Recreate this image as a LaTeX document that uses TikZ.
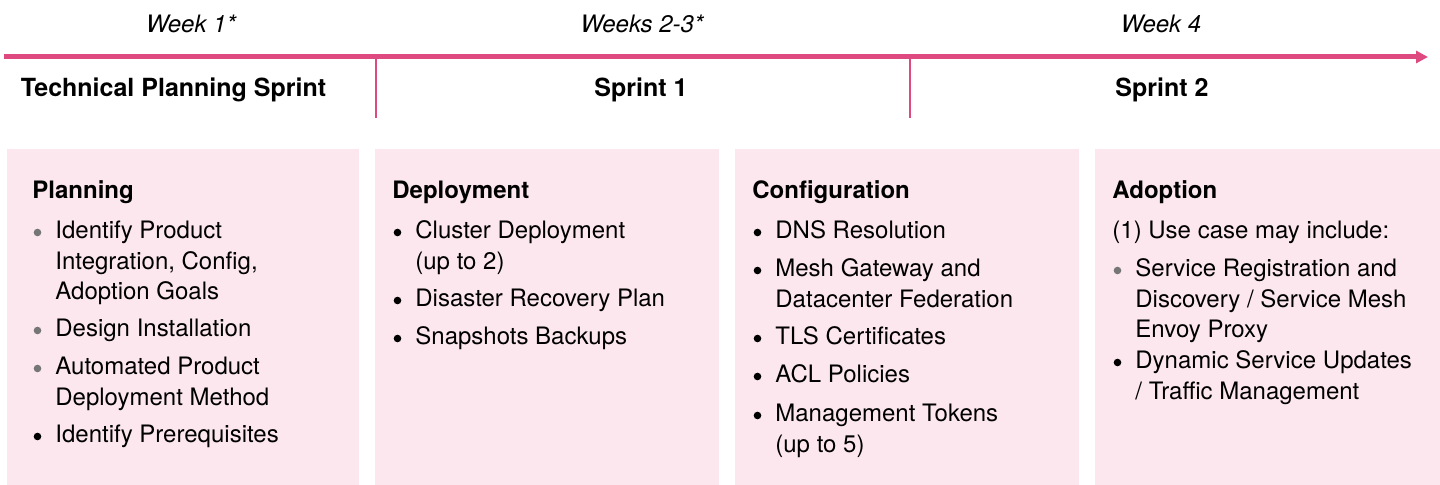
\documentclass[tikz,border=0pt]{standalone}
\usepackage{fontspec}
\setmainfont{TeX Gyre Heros}
\usetikzlibrary{arrows.meta}
\usetikzlibrary{positioning}
\definecolor{sprintpink}{RGB}{222,74,128}
\definecolor{phasefill}{RGB}{252,231,238}
\definecolor{dotgray}{RGB}{118,118,118}
\newcommand*{\basefont}{\fontsize{12}{15.2}\selectfont}
\tikzset{
    timeline/.style = {sprintpink,line width=2.5pt,-{Triangle[length=6pt,width=6pt]}},
    divider/.style = {sprintpink,line width=1.25pt},
    week/.style = {font=\basefont\itshape,anchor=base,inner sep=0},
    sprint/.style = {font=\fontsize{12.5}{15}\selectfont\bfseries,anchor=base,inner sep=0},
    phase/.style = {fill=phasefill,anchor=north west,inner sep=0,minimum width=172pt,minimum height=168pt},
    phasetitle/.style = {font=\basefont\bfseries,anchor=base west,inner sep=0},
    entry/.style = {font=\basefont,anchor=base west,inner sep=0}
}
% bullet entry: name, title x, first baseline y, bullet colour, lines
\newcommand\entry[5]{%
    \fill[#4] (#2+5.5,#3-6.5) circle (1.9pt);
    \node[entry] (#1) at (#2+23,#3) {\begin{tabular}[t]{@{}l@{}}#5\end{tabular}};
}

\begin{document}
\begin{tikzpicture}[x=0.5pt,y=-0.5pt]
        \useasboundingbox (0,0) rectangle (1440,485);
        % Weeks
        \path (191,33) node[week] (w1) {Week 1*}
            (642,33) node[week] (w23) {Weeks 2-3*}
            (1161,33) node[week] (w4) {Week 4}
        ;
        % Timeline
        \path (4,57) coordinate (tstart)
            (1428,57) coordinate (tend)
        ;
        \draw[timeline] (tstart) -- (tend);
        \foreach \x/\n in {376/a,910/b}{
            \coordinate (\n top) at (\x,57);
            \coordinate (\n bot) at (\x,118);
            \draw[divider] (\n top) -- (\n bot);
        }
        % Sprints
        \path (173.5,97) node[sprint] (s0) {Technical Planning Sprint}
            (641,97) node[sprint] (s1) {Sprint 1}
            (1162,97) node[sprint] (s2) {Sprint 2}
        ;
        % Phases
        \path (7,149) node[phase,minimum width=176pt] (plan) {}
            (375,149) node[phase] (deploy) {}
            (735,149) node[phase] (config) {}
            (1095,149) node[phase,minimum width=172.5pt] (adopt) {}
        ;
        \path (32,199) node[phasetitle] (plant) {Planning}
            (392,199) node[phasetitle] (deployt) {Deployment}
            (752,199) node[phasetitle] (configt) {Configuration}
            (1112,199) node[phasetitle] (adoptt) {Adoption}
        ;
        % Planning
        \entry{p1}{32}{239}{dotgray}{Identify Product\\Integration, Config,\\Adoption Goals}
        \entry{p2}{32}{337}{dotgray}{Design Installation}
        \entry{p3}{32}{375}{dotgray}{Automated Product\\Deployment Method}
        \entry{p4}{32}{443}{black}{Identify Prerequisites}
        % Deployment
        \entry{d1}{392}{239}{black}{Cluster Deployment\\(up to 2)}
        \entry{d2}{392}{307}{black}{Disaster Recovery Plan}
        \entry{d3}{392}{345}{black}{Snapshots Backups}
        % Configuration
        \entry{c1}{752}{239}{black}{DNS Resolution}
        \entry{c2}{752}{277}{black}{Mesh Gateway and\\Datacenter Federation}
        \entry{c3}{752}{345}{black}{TLS Certificates}
        \entry{c4}{752}{383}{black}{ACL Policies}
        \entry{c5}{752}{422}{black}{Management Tokens\\(up to 5)}
        % Adoption
        \node[entry] (a0) at (1112,239) {(1) Use case may include:};
        \entry{a1}{1112}{277}{dotgray}{Service Registration and\\Discovery / Service Mesh\\Envoy Proxy}
        \entry{a2}{1112}{369}{black}{Dynamic Service Updates\\/ Traffic Management}
    \end{tikzpicture}
\end{document}
